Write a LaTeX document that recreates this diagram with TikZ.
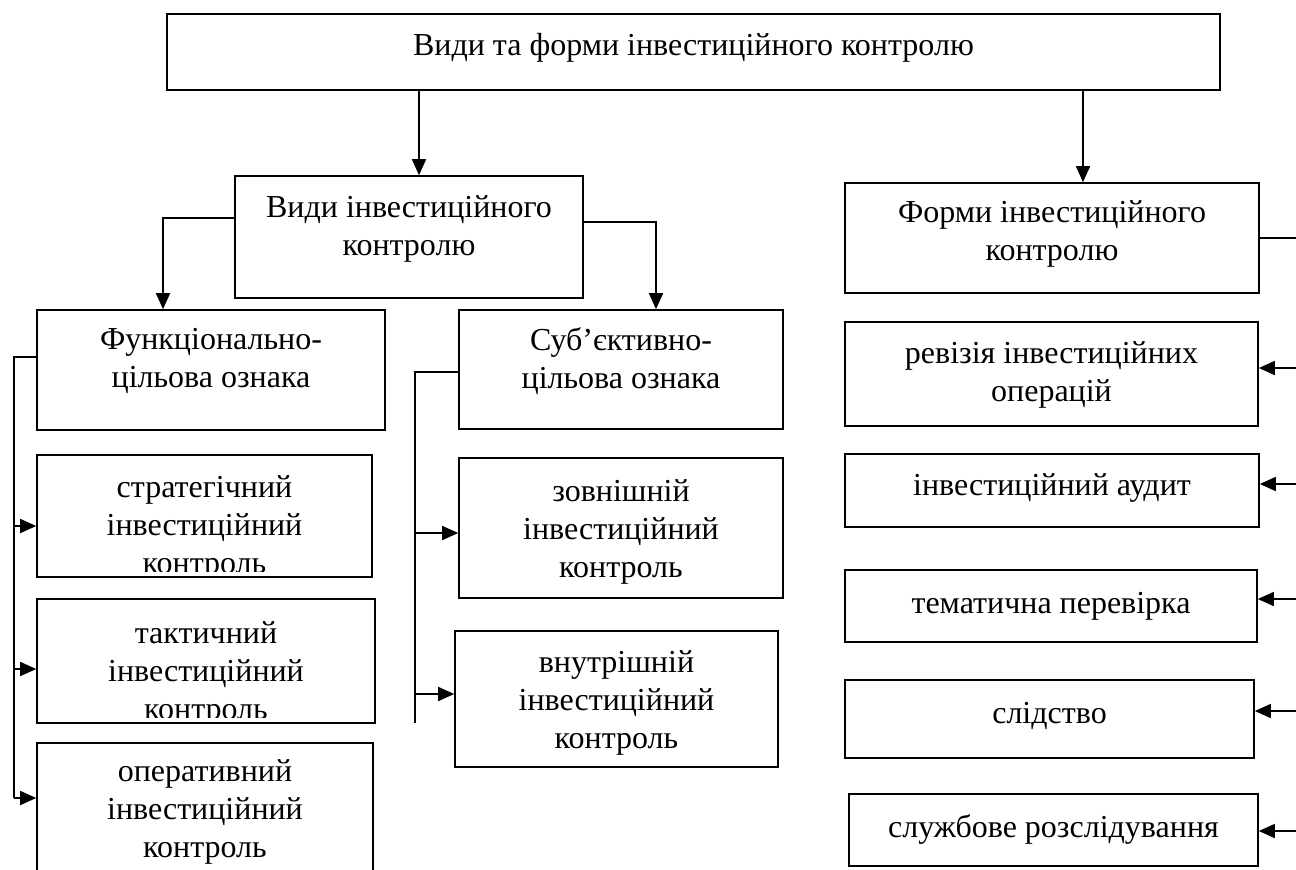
\documentclass[tikz,border=0pt]{standalone}
\usepackage{fontspec}
\setmainfont{Liberation Serif}
\usetikzlibrary{arrows.meta}
\begin{document}
\begin{tikzpicture}[x=0.5pt,y=-0.5pt,
  txt/.style={inner sep=0pt, align=center, font=\fontsize{16}{19}\selectfont},
  box/.style={draw, line width=0.8pt, rectangle, inner sep=0pt},
  boxtext/.style 2 args={path picture={\node[txt] at ([yshift=#1]path picture bounding box.center) {#2};}},
  cliptext/.style 2 args={path picture={\clip ([yshift=3pt]path picture bounding box.south west) rectangle (path picture bounding box.north east);
      \node[txt] at ([yshift=#1]path picture bounding box.center) {#2};}},
  conn/.style={line width=0.8pt},
  arr/.style={line width=0.8pt, -{Triangle[length=8pt,width=7pt]}}]
\useasboundingbox (0,0) rectangle (1296,869);
\clip (0,0) rectangle (1296,869);

% boxes
\node[box, minimum width=526.5pt, minimum height=38pt, boxtext={2pt}{Види та форми інвестиційного контролю}] (top) at (693.5,52) {};
\node[box, minimum width=174pt, minimum height=61pt, boxtext={4pt}{Види інвестиційного\\контролю}] (vyd) at (409,237) {};
\node[box, minimum width=207pt, minimum height=55pt, boxtext={2pt}{Форми інвестиційного\\контролю}] (form) at (1052,238) {};

\node[box, minimum width=174pt, minimum height=60pt, boxtext={4.5pt}{Функціонально-\\цільова ознака}] (fun) at (211,370) {};
\node[box, minimum width=162pt, minimum height=59.5pt, boxtext={4pt}{Суб’єктивно-\\цільова ознака}] (sub) at (621,369.5) {};

\node[box, minimum width=167.5pt, minimum height=61pt, cliptext={-6pt}{стратегічний\\інвестиційний\\контроль}] (str) at (204.5,516) {};
\node[box, minimum width=169pt, minimum height=62pt, cliptext={-6.5pt}{тактичний\\інвестиційний\\контроль}] (tak) at (206,661) {};
\node[box, minimum width=168pt, minimum height=78.5pt, boxtext={4.75pt}{оперативний\\інвестиційний\\контроль}] (op) at (205,821.5) {};

\node[box, minimum width=162pt, minimum height=70pt, boxtext={-2pt}{зовнішній\\інвестиційний\\контроль}] (zov) at (621,528) {};
\node[box, minimum width=161.5pt, minimum height=68pt, boxtext={-2pt}{внутрішній\\інвестиційний\\контроль}] (vnu) at (616.5,699) {};

\node[box, minimum width=206.5pt, minimum height=52pt, boxtext={-0.5pt}{ревізія інвестиційних\\операцій}] (rev) at (1051.5,374) {};
\node[box, minimum width=207pt, minimum height=36.5pt, boxtext={1.25pt}{інвестиційний аудит}] (aud) at (1052,490.5) {};
\node[box, minimum width=206pt, minimum height=36pt, boxtext={0pt}{тематична перевірка}] (tem) at (1051,606) {};
\node[box, minimum width=204.5pt, minimum height=39pt, boxtext={1.5pt}{слідство}] (sli) at (1049.5,719) {};
\node[box, minimum width=204.5pt, minimum height=36pt, boxtext={0.5pt}{службове розслідування}] (slu) at (1053.5,830) {};

% connectors from the top box
\coordinate (a1) at (419,0);
\coordinate (a2) at (1083,0);
\draw[arr] (top.south -| a1) -- (vyd.north -| a1);
\draw[arr] (top.south -| a2) -- (form.north -| a2);

% from "Види" box
\coordinate (l1) at (163,218);
\coordinate (r1) at (656,222);
\draw[arr] (vyd.west |- l1) -| (fun.north -| l1);
\draw[arr] (vyd.east |- r1) -| (sub.north -| r1);

% left bus
\coordinate (f0) at (14,357);
\coordinate (f1) at (14,526);
\coordinate (f2) at (14,669);
\coordinate (f3) at (14,798);
\draw[conn] (fun.west |- f0) -| (f3);
\draw[arr] (f1) -- (str.west |- f1);
\draw[arr] (f2) -- (tak.west |- f2);
\draw[arr] (f3) -- (op.west |- f3);

% middle bus
\coordinate (s0) at (415,372);
\coordinate (s1) at (415,533);
\coordinate (s2) at (415,694);
\coordinate (s3) at (415,723);
\draw[conn] (sub.west |- s0) -| (s3);
\draw[arr] (s1) -- (zov.west |- s1);
\draw[arr] (s2) -- (vnu.west |- s2);

% right bus (cut off at the picture edge)
\coordinate (e0) at (1300,238);
\draw[conn] (form.east |- e0) -- (e0);
\foreach \n/\yy in {rev/368, aud/484, tem/599, sli/711, slu/831}{
  \coordinate (e-\n) at (1300,\yy);
  \draw[arr] (e-\n) -- (\n.east |- e-\n);
}
\end{tikzpicture}
\end{document}
